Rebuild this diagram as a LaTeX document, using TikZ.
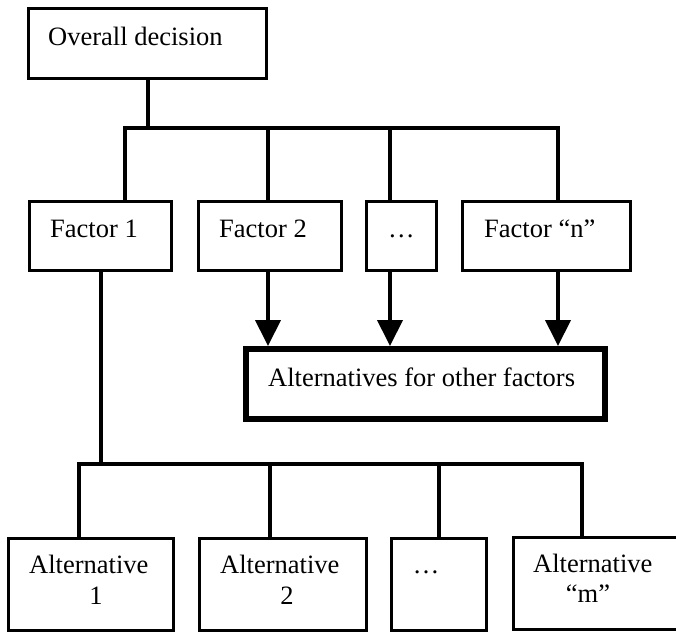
\documentclass[tikz,border=0pt]{standalone}
\usepackage{fontspec}
\setmainfont{Liberation Serif}
\usetikzlibrary{arrows.meta}
\begin{document}
\begin{tikzpicture}[x=1pt,y=-1pt,
  box/.style={draw, line width=3pt, inner sep=0pt, anchor=north west},
  bigbox/.style={draw, line width=6pt, inner sep=0pt, anchor=north west},
  link/.style={line width=3.5pt, line join=miter},
  arr/.style={line width=4pt, -{Triangle[width=25pt,length=26pt]}},
  txt/.style={inner sep=0pt, font=\fontsize{26.5}{31}\selectfont},
]
\useasboundingbox (0,0) rectangle (676,632);

% top level
\node[box, minimum width=238pt, minimum height=70pt] (od) at (27,7) {};
\node[txt, anchor=base west] (odt) at (48,45) {Overall decision};

% factors
\node[box, minimum width=142pt, minimum height=69pt] (f1) at (28,200) {};
\node[box, minimum width=143pt, minimum height=69pt] (f2) at (197,200) {};
\node[box, minimum width=70pt,  minimum height=69pt] (fd) at (365,200) {};
\node[box, minimum width=168pt, minimum height=69pt] (fn) at (461,200) {};
\node[txt, anchor=base west] (f1t) at (50,237) {Factor 1};
\node[txt, anchor=base west] (f2t) at (219,237) {Factor 2};
\node[txt, anchor=base west] (fdt) at (388,237) {…};
\node[txt, anchor=base west] (fnt) at (484,237) {Factor “n”};

% shared target of the other factors
\node[bigbox, minimum width=359pt, minimum height=70pt] (alt) at (243,346) {};
\node[txt, anchor=base west] (altt) at (268,386) {Alternatives for other factors};

% alternatives of factor 1
\node[box, minimum width=165pt, minimum height=92pt] (a1) at (7,537) {};
\node[box, minimum width=167pt, minimum height=92pt] (a2) at (198,537) {};
\node[box, minimum width=95pt,  minimum height=92pt] (ad) at (390,537) {};
\node[box, minimum width=165pt, minimum height=92pt] (am) at (512,536) {};
\node[txt, anchor=base west] (a1t) at (29,573) {Alternative};
\node[txt, anchor=base] (a1n) at (96,604) {1};
\node[txt, anchor=base west] (a2t) at (220,573) {Alternative};
\node[txt, anchor=base] (a2n) at (287,604) {2};
\node[txt, anchor=base] (adt) at (426,573) {…};
\node[txt, anchor=base west] (amt) at (533,572) {Alternative};
\node[txt, anchor=base] (amn) at (588,602) {“m”};

% upper tree
\coordinate (odj) at (148,128);
\coordinate (b1) at (125,128);
\coordinate (b2) at (268,128);
\coordinate (b3) at (390,128);
\coordinate (b4) at (558,128);
\draw[link] (od.south -| odj) -- (odj);
\draw[link] (b1 |- f1.north) |- (b4) -- (b4 |- fn.north);
\draw[link] (b2) -- (b2 |- f2.north);
\draw[link] (b3) -- (b3 |- fd.north);

% arrows into the shared box
\draw[arr] (b2 |- f2.south) -- (b2 |- alt.north);
\draw[arr] (b3 |- fd.south) -- (b3 |- alt.north);
\draw[arr] (b4 |- fn.south) -- (b4 |- alt.north);

% lower tree
\coordinate (c0) at (101,464);
\coordinate (c1) at (79,464);
\coordinate (c2) at (270,464);
\coordinate (c3) at (439,464);
\coordinate (c4) at (582,464);
\draw[link] (f1.south -| c0) -- (c0);
\draw[link] (c1 |- a1.north) |- (c4) -- (c4 |- am.north);
\draw[link] (c2) -- (c2 |- a2.north);
\draw[link] (c3) -- (c3 |- ad.north);
\end{tikzpicture}
\end{document}
